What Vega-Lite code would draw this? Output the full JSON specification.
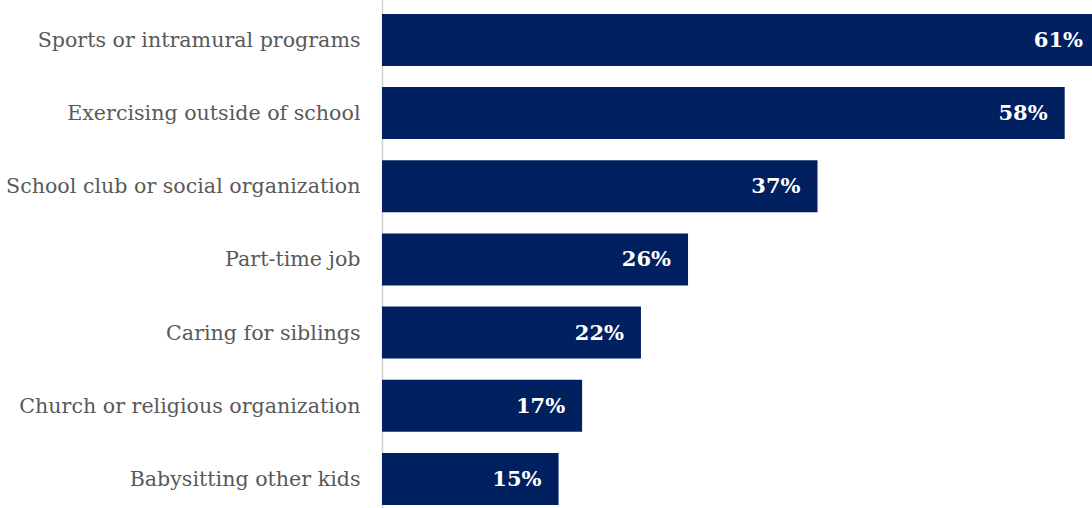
{
  "$schema": "https://vega.github.io/schema/vega-lite/v6.json",
  "width": 710,
  "height": 508,
  "autosize": "none",
  "padding": {"left": 382, "top": 0, "right": 0, "bottom": 0},
  "background": "white",
  "config": {"view": {"stroke": null}},
  "data": {
    "values": [
      {"activity": "Sports or intramural programs", "pct": 61, "label": "61%"},
      {"activity": "Exercising outside of school", "pct": 58, "label": "58%"},
      {"activity": "School club or social organization", "pct": 37, "label": "37%"},
      {"activity": "Part-time job", "pct": 26, "label": "26%"},
      {"activity": "Caring for siblings", "pct": 22, "label": "22%"},
      {"activity": "Church or religious organization", "pct": 17, "label": "17%"},
      {"activity": "Babysitting other kids", "pct": 15, "label": "15%"}
    ]
  },
  "encoding": {
    "y": {
      "field": "activity",
      "type": "nominal",
      "sort": null,
      "scale": {"paddingInner": 0.289, "paddingOuter": 0.116, "align": 0.82},
      "axis": {
        "title": null,
        "ticks": false,
        "labelPadding": 22,
        "labelOffset": 1,
        "labelFont": "DejaVu Serif",
        "labelFontSize": 20.6,
        "labelColor": "#595959",
        "labelLimit": 400,
        "domainColor": "#d0d0d0",
        "domainWidth": 1.5
      }
    },
    "x": {
      "field": "pct",
      "type": "quantitative",
      "scale": {"domain": [0, 60.32], "nice": false},
      "axis": null
    }
  },
  "layer": [
    {"mark": {"type": "bar", "color": "#002060", "clip": true}},
    {
      "mark": {
        "type": "text",
        "align": "right",
        "dx": -17,
        "dy": 1,
        "font": "DejaVu Serif",
        "fontWeight": "bold",
        "fontSize": 21,
        "color": "white"
      },
      "encoding": {"text": {"field": "label", "type": "nominal"}}
    }
  ]
}
